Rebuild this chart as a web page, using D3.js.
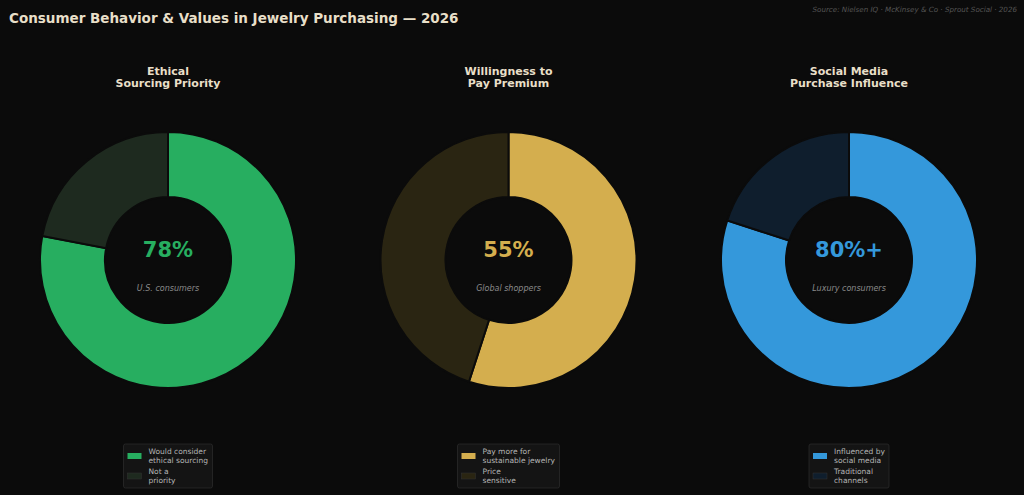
<!DOCTYPE html>
<html>
<head>
<meta charset="utf-8">
<script src="https://cdn.jsdelivr.net/npm/d3@7"></script>
<style>
  body { margin: 0; background: #0b0b0b; }
  svg { display: block; }
</style>
</head>
<body>
<svg id="chart"></svg>
<script>
var width = 1024;
var height = 495;

// data
var panelTitles = [["Ethical", "Sourcing Priority"], ["Willingness to", "Pay Premium"], ["Social Media", "Purchase Influence"]];
var mainValues = [78, 55, 80];
var centerLabels = ["78%", "55%", "80%+"];
var subLabels = ["U.S. consumers", "Global shoppers", "Luxury consumers"];
var legendMain = [["Would consider", "ethical sourcing"], ["Pay more for", "sustainable jewelry"], ["Influenced by", "social media"]];
var legendRest = [["Not a", "priority"], ["Price", "sensitive"], ["Traditional", "channels"]];
var mainColors = ["#27ae60", "#d4ae4e", "#3498db"];
var restColors = ["#1e2a1f", "#2a2512", "#0f1e2d"];

var svg = d3.select('#chart')
    .attr('width', width)
    .attr('height', height);

svg.append('rect')
    .attr('width', width)
    .attr('height', height)
    .attr('fill', '#0b0b0b');

svg.append('text')
    .attr('x', 9)
    .attr('y', 23)
    .attr('fill', '#e8dfc8')
    .style('font-family', 'DejaVu Sans')
    .style('font-weight', 'bold')
    .style('font-size', '13.5px')
    .text('Consumer Behavior & Values in Jewelry Purchasing — 2026');

svg.append('text')
    .attr('x', 1017)
    .attr('y', 12)
    .attr('text-anchor', 'end')
    .attr('fill', '#555')
    .style('font-family', 'DejaVu Sans')
    .style('font-style', 'italic')
    .style('font-size', '7.15px')
    .text('Source: Nielsen IQ · McKinsey & Co · Sprout Social · 2026');

var xScale = d3.scalePoint()
    .domain([0, 1, 2])
    .range([168, 849]);

var cy = 260;
var outerR = 128;
var innerR = 63;

var pie = d3.pie()
    .sort(null)
    .value(function(d) { return d; });

var arc = d3.arc()
    .innerRadius(innerR)
    .outerRadius(outerR);

mainValues.forEach(function(v, i) {
  var cx = xScale(i);
  var g = svg.append('g');

  g.append('text')
      .attr('x', cx)
      .attr('y', 75)
      .attr('text-anchor', 'middle')
      .attr('fill', '#e8dfc8')
      .style('font-family', 'DejaVu Sans')
      .style('font-weight', 'bold')
      .style('font-size', '11px')
      .selectAll('tspan')
      .data(panelTitles[i])
      .join('tspan')
      .attr('x', cx)
      .attr('dy', function(d, j) { return j === 0 ? 0 : 12; })
      .text(function(d) { return d; });

  var colors = [mainColors[i], restColors[i]];
  g.append('g')
      .attr('transform', 'translate(' + cx + ',' + cy + ')')
      .selectAll('path')
      .data(pie([v, 100 - v]))
      .join('path')
      .attr('d', arc)
      .attr('fill', function(d, j) { return colors[j]; })
      .attr('stroke', '#0b0b0b')
      .attr('stroke-width', 2);

  g.append('text')
      .attr('x', cx)
      .attr('y', 257)
      .attr('text-anchor', 'middle')
      .attr('fill', mainColors[i])
      .style('font-family', 'DejaVu Sans')
      .style('font-weight', 'bold')
      .style('font-size', '21px')
      .text(centerLabels[i]);

  g.append('text')
      .attr('x', cx)
      .attr('y', 291)
      .attr('text-anchor', 'middle')
      .attr('fill', '#8a8a8a')
      .style('font-family', 'DejaVu Sans')
      .style('font-style', 'italic')
      .style('font-size', '8px')
      .text(subLabels[i]);

  // legend
  var lw = [89, 102, 80][i];
  var lx = cx - lw / 2;
  var leg = g.append('g').attr('transform', 'translate(' + lx + ',444)');
  leg.append('rect')
      .attr('width', lw)
      .attr('height', 44)
      .attr('rx', 2)
      .attr('fill', '#141414')
      .attr('stroke', '#2a2a2a')
      .attr('stroke-width', 0.8);

  [legendMain[i], legendRest[i]].forEach(function(lines, k) {
    leg.append('rect')
        .attr('x', 4)
        .attr('y', 9 + k * 20)
        .attr('width', 14)
        .attr('height', 6)
        .attr('fill', colors[k])
        .attr('stroke', k === 1 ? '#333' : 'none')
        .attr('stroke-width', 0.5);
    leg.append('text')
        .attr('y', 10 + k * 20)
        .attr('fill', '#b5b5b5')
        .style('font-family', 'DejaVu Sans')
        .style('font-size', '7.5px')
        .selectAll('tspan')
        .data(lines)
        .join('tspan')
        .attr('x', 25)
        .attr('dy', function(d, j) { return j === 0 ? 0 : 9; })
        .text(function(d) { return d; });
  });
});
</script>
</body>
</html>
